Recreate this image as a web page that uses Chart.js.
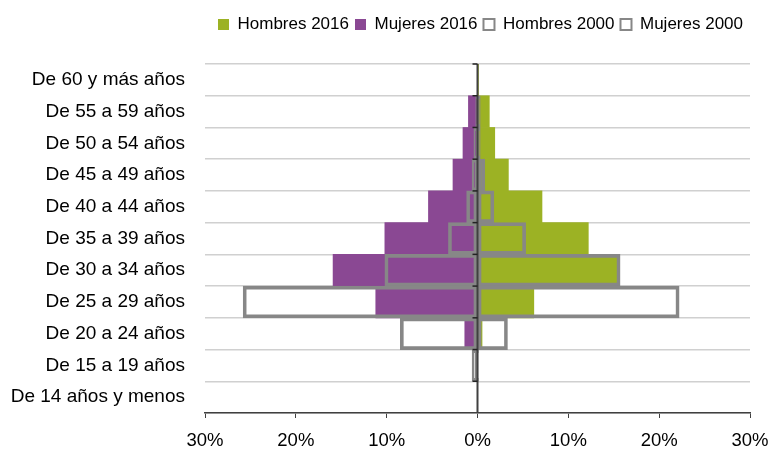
<!DOCTYPE html>
<html>
<head>
<meta charset="utf-8">
<script src="https://cdn.jsdelivr.net/npm/chart.js@4"></script>
<style>
  body { margin: 0; background: #fff; }
  #wrap { width: 770px; height: 450px; }
</style>
</head>
<body>
<div id="wrap"><canvas id="pyramid"></canvas></div>
<script>
// Age groups, top to bottom
const ageGroups = [
  'De 60 y más años', 'De 55 a 59 años', 'De 50 a 54 años', 'De 45 a 49 años',
  'De 40 a 44 años', 'De 35 a 39 años', 'De 30 a 34 años', 'De 25 a 29 años',
  'De 20 a 24 años', 'De 15 a 19 años', 'De 14 años y menos'
];

// Share of each group (%) - women drawn to the left
const hombres2016 = [0.1, 1.3, 1.9, 3.4, 7.1, 12.2, 15.5, 6.2, 0.5, 0, 0];
const mujeres2016 = [0, 1.0, 1.6, 2.7, 5.4, 10.2, 15.9, 11.2, 1.4, 0.15, 0];
const hombres2000 = [0, 0.3, 0.3, 0.8, 1.8, 5.3, 15.7, 22.2, 3.3, 0.1, 0];
const mujeres2000 = [0, 0.2, 0.4, 0.6, 1.2, 3.2, 10.2, 25.8, 8.5, 0.6, 0];

const xTicks = [-30, -20, -10, 0, 10, 20, 30];

const GREEN = '#9cb224';
const PURPLE = '#8a4893';
const OUTLINE = '#878787';
const AXIS = '#404040';

const neg = arr => arr.map(v => -v);

// centre axis drawn over the bars, with small ticks at each category boundary
const centreAxis = {
  id: 'centreAxis',
  afterDatasetsDraw(chart) {
    const { ctx, chartArea, scales: { x, y } } = chart;
    const x0 = x.getPixelForValue(0);
    ctx.save();
    ctx.strokeStyle = AXIS;
    ctx.lineWidth = 2;
    ctx.beginPath();
    ctx.moveTo(x0, chartArea.top);
    ctx.lineTo(x0, chartArea.bottom);
    ctx.stroke();
    ctx.strokeStyle = '#222';
    ctx.lineWidth = 1.5;
    for (let i = 0; i < ageGroups.length; i++) {
      const py = y.getPixelForValue(i - 0.5);
      ctx.beginPath();
      ctx.moveTo(x0 - 5, py);
      ctx.lineTo(x0, py);
      ctx.stroke();
    }
    ctx.restore();
  }
};

// extra room under the legend (and a pixel of slack so it never wraps)
const legendSpace = {
  id: 'legendSpace',
  beforeInit(chart) {
    const fit = chart.legend.fit;
    chart.legend.fit = function () {
      fit.bind(chart.legend)();
      this.height += 21;
      if (this.lineWidths && this.lineWidths.length) this.lineWidths[0] += 1;
    };
  }
};

Chart.defaults.font.family = '"Liberation Sans", Arial, sans-serif';
Chart.defaults.color = '#000';

new Chart(document.getElementById('pyramid'), {
  type: 'bar',
  data: {
    labels: ageGroups,
    datasets: [
      {
        label: 'Hombres 2016',
        data: hombres2016,
        backgroundColor: GREEN,
        borderWidth: 0,
        order: 1
      },
      {
        label: 'Mujeres 2016',
        data: neg(mujeres2016),
        backgroundColor: PURPLE,
        borderWidth: 0,
        order: 1
      },
      {
        label: 'Hombres 2000',
        data: hombres2000,
        backgroundColor: 'rgba(255,255,255,0)',
        borderColor: OUTLINE,
        borderWidth: 3,
        borderSkipped: false,
        order: 0
      },
      {
        label: 'Mujeres 2000',
        data: neg(mujeres2000),
        backgroundColor: 'rgba(255,255,255,0)',
        borderColor: OUTLINE,
        borderWidth: 3,
        borderSkipped: false,
        order: 0
      }
    ]
  },
  options: {
    indexAxis: 'y',
    responsive: true,
    maintainAspectRatio: false,
    animation: false,
    datasets: {
      bar: { grouped: false, barPercentage: 1, categoryPercentage: 1 }
    },
    layout: { padding: { left: 10, right: 20, top: 10, bottom: 0 } },
    plugins: {
      legend: {
        position: 'top',
        align: 'end',
        labels: {
          boxWidth: 11,
          boxHeight: 11,
          padding: 6,
          font: { size: 17 },
          sort: (a, b) => a.datasetIndex - b.datasetIndex,
          generateLabels: chart => {
            const items = Chart.defaults.plugins.legend.labels.generateLabels(chart);
            items.forEach(it => { if (it.lineWidth) it.lineWidth = 2; });
            return items;
          }
        }
      },
      tooltip: { enabled: false }
    },
    scales: {
      x: {
        min: -30,
        max: 30,
        afterBuildTicks: scale => { scale.ticks = xTicks.map(v => ({ value: v })); },
        afterFit: scale => {
          scale.height = 37;
          scale.paddingLeft = 0;
          scale.paddingRight = 0;
        },
        ticks: {
          padding: 14,
          font: { size: 18.5, lineHeight: 1 },
          callback: v => Math.abs(v) + '%'
        },
        grid: {
          color: 'rgba(0,0,0,0)',
          tickColor: AXIS,
          tickLength: 5
        },
        border: { color: AXIS, width: 1.5 }
      },
      y: {
        afterFit: scale => { scale.width = 195; },
        ticks: {
          padding: 20,
          font: { size: 19 }
        },
        grid: {
          offset: true,
          color: '#d0d0d0',
          lineWidth: 1.5,
          drawTicks: false
        },
        border: { display: false }
      }
    }
  },
  plugins: [centreAxis, legendSpace]
});
</script>
</body>
</html>
